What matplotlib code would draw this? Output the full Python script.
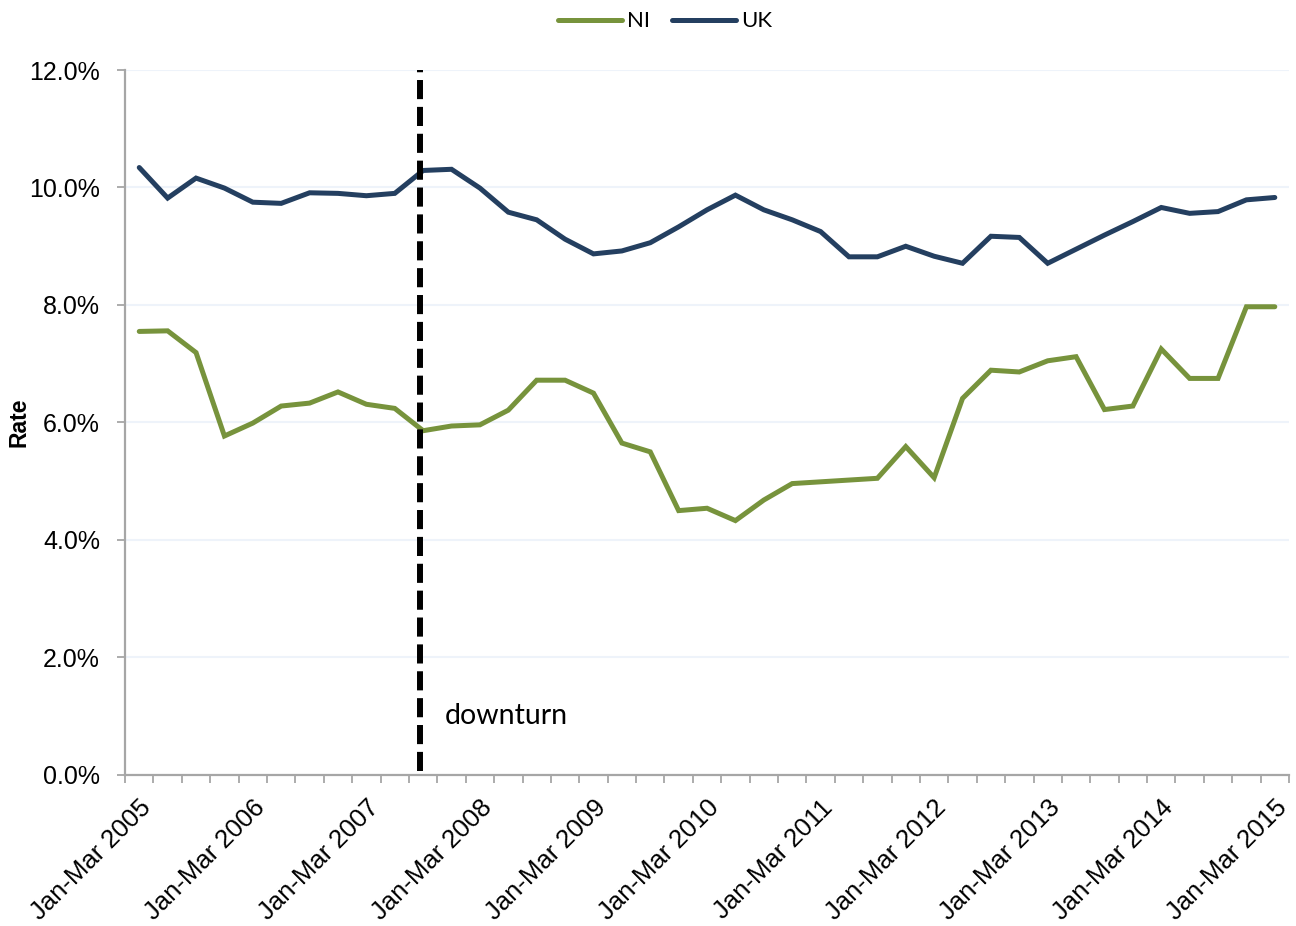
"""Unemployment-style rate chart: NI vs UK, quarterly 2005-2015."""

import matplotlib
matplotlib.use("Agg")
import matplotlib.pyplot as plt
import matplotlib.transforms as mtransforms
from matplotlib.ticker import FixedLocator, FuncFormatter, MultipleLocator

# quarterly values, Jan-Mar 2005 .. Jan-Mar 2015 (percent)
ni_rate = [
  7.55, 7.56, 7.19, 5.77, 5.99, 6.28, 6.33, 6.52, 6.31, 6.24,
  5.86, 5.94, 5.96, 6.21, 6.72, 6.72, 6.50, 5.65, 5.50, 4.50,
  4.54, 4.33, 4.68, 4.96, 4.99, 5.02, 5.05, 5.59, 5.06, 6.41,
  6.89, 6.86, 7.05, 7.12, 6.22, 6.28, 7.25, 6.75, 6.75, 7.97,
  7.97,
]
uk_rate = [
  10.34, 9.82, 10.16, 9.99, 9.75, 9.73, 9.91, 9.90, 9.86, 9.90,
  10.29, 10.31, 9.99, 9.58, 9.45, 9.12, 8.87, 8.92, 9.06, 9.33,
  9.62, 9.87, 9.62, 9.45, 9.25, 8.82, 8.82, 9.00, 8.83, 8.71,
  9.17, 9.15, 8.71, 8.95, 9.19, 9.42, 9.66, 9.56, 9.59, 9.79,
  9.83,
]
years = list(range(2005, 2016))
tick_labels = [f"Jan-Mar {y}" for y in years]
downturn_index = 9.9
downturn_label = "downturn"

NI_COLOR = "#77933C"
UK_COLOR = "#243F60"
AXIS_GREY = "#A6A6A6"

plt.rcParams["font.family"] = ["Liberation Sans", "DejaVu Sans"]

fig = plt.figure(figsize=(12.96, 9.26), dpi=100)
ax = fig.add_axes([0.0965, 0.1631, 0.8981, 0.7613])

x = list(range(len(ni_rate)))
ax.plot(x, ni_rate, color=NI_COLOR, linewidth=3.6, label="NI", solid_capstyle="round",
        solid_joinstyle="miter", zorder=3)
ax.plot(x, uk_rate, color=UK_COLOR, linewidth=3.6, label="UK", solid_capstyle="round",
        solid_joinstyle="miter", zorder=3)

ax.axvline(downturn_index, ymin=0.006, ymax=1.0, color="black", linewidth=4.3,
           linestyle=(0, (3.2, 1.3)), zorder=4)
ax.text(downturn_index + 0.85, 1.0, downturn_label, fontsize=20.5,
        family=["Lato", "DejaVu Sans"], color="black", va="center", ha="left")

ax.set_xlim(-0.5, len(ni_rate) - 0.5)
ax.set_ylim(0, 12)
ax.yaxis.set_major_locator(MultipleLocator(2))
ax.yaxis.set_major_formatter(FuncFormatter(lambda v, _: f"{v:.1f}%"))

ax.set_xticks(list(range(0, len(ni_rate), 4)))
ax.set_xticklabels(tick_labels, rotation=45, ha="right", rotation_mode="anchor", fontsize=18.5)
shift = mtransforms.ScaledTranslation(-6 / 100, 0, fig.dpi_scale_trans)
for lbl in ax.get_xticklabels():
  lbl.set_transform(lbl.get_transform() + shift)
ax.xaxis.set_minor_locator(FixedLocator([i - 0.5 for i in range(len(ni_rate) + 1)]))
ax.tick_params(axis="x", which="major", length=0, pad=15)
ax.tick_params(axis="x", which="minor", length=6, width=1.3, color=AXIS_GREY, direction="out")
ax.tick_params(axis="y", which="major", length=6, width=1.3, color=AXIS_GREY, labelsize=18,
               pad=12)

ax.grid(axis="y", color="#EEF3FA", linewidth=1.5, zorder=0)
for side in ("top", "right"):
  ax.spines[side].set_visible(False)
for side in ("left", "bottom"):
  ax.spines[side].set_color(AXIS_GREY)
  ax.spines[side].set_linewidth(1.6)

fig.text(19 / 1296, 1 - 422 / 926, "Rate", fontsize=16.5, fontweight="bold",
         rotation=90, ha="center", va="center")

fig.legend(loc="center", bbox_to_anchor=(0.513, 0.977), ncol=2, frameon=False,
           prop={"family": ["Lato", "DejaVu Sans"], "size": 16}, handlelength=2.9,
           handletextpad=0.2, columnspacing=1.0)

fig.savefig("out.png", dpi=100, facecolor="white")
